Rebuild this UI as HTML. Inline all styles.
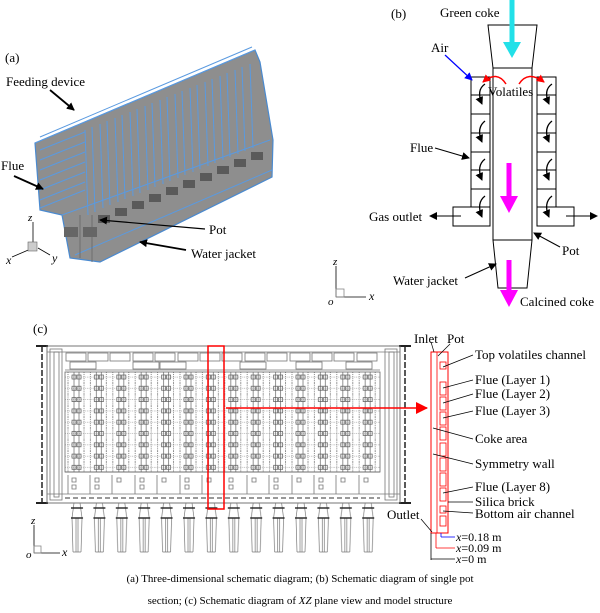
<!DOCTYPE html>
<html><head><meta charset="utf-8"><style>
html,body{margin:0;padding:0;background:#fff;}
svg{display:block;font-family:"Liberation Serif",serif;}
</style></head><body>
<svg width="600" height="613" viewBox="0 0 600 613" xmlns="http://www.w3.org/2000/svg">
<defs>
<marker id="ak" markerWidth="8" markerHeight="8" refX="7" refY="4" orient="auto" markerUnits="userSpaceOnUse"><path d="M0,0 L8,4 L0,8 z" fill="#000"/></marker>
<marker id="ab" markerWidth="8" markerHeight="8" refX="7" refY="4" orient="auto" markerUnits="userSpaceOnUse"><path d="M0,0 L8,4 L0,8 z" fill="#0000ff"/></marker>
<marker id="ar" markerWidth="8" markerHeight="8" refX="7" refY="4" orient="auto" markerUnits="userSpaceOnUse"><path d="M0,0 L8,4 L0,8 z" fill="#f00"/></marker>
<marker id="arb" markerWidth="12" markerHeight="12" refX="11" refY="6" orient="auto" markerUnits="userSpaceOnUse"><path d="M0,0 L12,6 L0,12 z" fill="#f00"/></marker>
<pattern id="grid" x="65" y="372" width="22.4" height="11.3" patternUnits="userSpaceOnUse">
<rect x="0" y="0" width="22.4" height="11.3" fill="#fff"/>
<line x1="3" y1="0" x2="3" y2="11.3" stroke="#555" stroke-width="0.7" stroke-dasharray="1,1"/>
<line x1="9" y1="0" x2="9" y2="11.3" stroke="#666" stroke-width="0.7"/>
<line x1="14" y1="0" x2="14" y2="11.3" stroke="#666" stroke-width="0.7"/>
<line x1="19" y1="0" x2="19" y2="11.3" stroke="#555" stroke-width="0.7" stroke-dasharray="1,1"/>
<rect x="7" y="3" width="4" height="4" fill="none" stroke="#555" stroke-width="0.7"/>
<rect x="12" y="3" width="4" height="4" fill="none" stroke="#555" stroke-width="0.7"/>
<line x1="0" y1="5" x2="22.4" y2="5" stroke="#888" stroke-width="0.5" stroke-dasharray="1,1"/>
</pattern>
<pattern id="legs" x="70" y="503" width="22.4" height="50" patternUnits="userSpaceOnUse">
<path d="M4,0 L2,15 L3,49 M10,0 L12,15 L11,49 M3,49 L11,49 M6,15 V49 M8,15 V49" fill="none" stroke="#777" stroke-width="0.7"/>
<line x1="1" y1="5" x2="13" y2="5" stroke="#222" stroke-width="1.4"/>
<line x1="1" y1="15" x2="13" y2="15" stroke="#222" stroke-width="1.4"/>
</pattern>
</defs>

<!-- Panel (a) -->
<text x="5" y="62" font-size="13">(a)</text>
<polygon points="35,143 80,124 255,50 260,62 273,140 272,177 100,262 70,258 62,215 40,210" fill="#8e8e8e" stroke="#4a8ad0" stroke-width="1.2"/>
<g stroke="#5a9ae0" stroke-width="1" fill="none">
<path d="M40,150 L85,132 M40,160 L85,142 M40,170 L85,152 M40,180 L85,162 M40,190 L85,172 M40,200 L85,182 M40,208 L85,190"/>
<path d="M85,130 L88,215 M100,124 L103,208 M115,118 L118,202 M130,112 L133,196 M145,106 L148,190 M160,100 L163,184 M175,94 L178,178 M190,88 L193,172 M205,82 L208,166 M220,76 L223,160 M235,70 L238,154 M250,64 L253,148"/>
<path d="M92,127 L95,212 M107,121 L110,205 M122,115 L125,199 M137,109 L140,193 M152,103 L155,187 M167,97 L170,181 M182,91 L185,175 M197,85 L200,169 M212,79 L215,163 M227,73 L230,157 M242,67 L245,151"/>
<path d="M35,143 L255,50 M40,137 L252,47"/>
<path d="M62,215 L270,140 M75,255 L272,170"/>
</g>
<g fill="#5a5a5a">
<rect x="98" y="215" width="12" height="8"/><rect x="115" y="208" width="12" height="8"/><rect x="132" y="201" width="12" height="8"/><rect x="149" y="194" width="12" height="8"/><rect x="166" y="187" width="12" height="8"/><rect x="183" y="180" width="12" height="8"/><rect x="200" y="173" width="12" height="8"/><rect x="217" y="166" width="12" height="8"/><rect x="234" y="159" width="12" height="8"/><rect x="251" y="152" width="12" height="8"/>
<rect x="64" y="227" width="14" height="10" fill="#666"/><rect x="83" y="227" width="14" height="10" fill="#666"/>
</g>
<g stroke="#666" stroke-width="0.8"><line x1="80" y1="215" x2="80" y2="258"/><line x1="92" y1="215" x2="92" y2="262"/></g>
<text x="6" y="86" font-size="13">Feeding device</text>
<line x1="50" y1="90" x2="74" y2="110" stroke="#000" stroke-width="1.8" marker-end="url(#ak)"/>
<text x="1" y="170" font-size="13">Flue</text>
<line x1="14" y1="176" x2="43" y2="189" stroke="#000" stroke-width="1.8" marker-end="url(#ak)"/>
<text x="209" y="234" font-size="13">Pot</text>
<line x1="205" y1="229" x2="100" y2="220" stroke="#000" stroke-width="1.2" marker-end="url(#ak)"/>
<text x="191" y="258" font-size="13">Water jacket</text>
<line x1="186" y1="250" x2="140" y2="242" stroke="#000" stroke-width="1.8" marker-end="url(#ak)"/>
<g stroke="#000" stroke-width="0.8"><line x1="33" y1="246" x2="33" y2="222"/><line x1="33" y1="248" x2="12" y2="257"/><line x1="38" y1="248" x2="50" y2="255"/></g>
<rect x="28" y="242" width="9" height="9" fill="#ccc" stroke="#666" stroke-width="0.6"/>
<text x="28" y="221" font-size="11" font-style="italic">z</text>
<text x="6" y="264" font-size="12" font-style="italic">x</text>
<text x="52" y="262" font-size="12" font-style="italic">y</text>

<!-- Panel (b) -->
<text x="391" y="18" font-size="13">(b)</text>
<text x="440" y="17" font-size="13">Green coke</text>
<g fill="none" stroke="#000" stroke-width="1">
<polygon points="488,25 537,25 532,68 493,68"/>
<rect x="493" y="68" width="39" height="172"/>
<polygon points="493,240 532,240 527,288 498,288"/>
<rect x="471" y="77" width="19" height="130"/>
<rect x="537" y="77" width="19" height="130"/>
<path d="M471,95 H490 M471,114 H490 M471,133 H490 M471,152 H490 M471,170 H490 M471,189 H490"/>
<path d="M537,95 H556 M537,114 H556 M537,133 H556 M537,152 H556 M537,170 H556 M537,189 H556"/>
<rect x="453" y="207" width="37" height="19"/>
<rect x="537" y="207" width="37" height="19"/>
</g>
<line x1="461" y1="216" x2="430" y2="216" stroke="#000" stroke-width="1" marker-end="url(#ak)"/>
<line x1="566" y1="216" x2="597" y2="216" stroke="#000" stroke-width="1" marker-end="url(#ak)"/>
<g fill="none" stroke="#000" stroke-width="1.3">
<path d="M485,84 Q476,90 482,104" marker-end="url(#ak)"/><path d="M485,121 Q476,128 482,142" marker-end="url(#ak)"/><path d="M485,159 Q476,166 482,180" marker-end="url(#ak)"/><path d="M485,196 Q476,203 482,217" marker-end="url(#ak)"/>
<path d="M552,84 Q543,90 549,104" marker-end="url(#ak)"/><path d="M552,121 Q543,128 549,142" marker-end="url(#ak)"/><path d="M552,159 Q543,166 549,180" marker-end="url(#ak)"/><path d="M552,196 Q543,203 549,217" marker-end="url(#ak)"/>
</g>
<g fill="none" stroke="#f00" stroke-width="1.5">
<path d="M506,84 Q497,70 483,82" marker-end="url(#ar)"/>
<path d="M519,84 Q528,70 544,82" marker-end="url(#ar)"/>
</g>
<line x1="512" y1="0" x2="512" y2="44" stroke="#22e0e8" stroke-width="5"/>
<polygon points="503,42 521,42 512,58" fill="#22e0e8"/>
<line x1="509" y1="163" x2="509" y2="198" stroke="#f0f" stroke-width="5"/>
<polygon points="500,196 518,196 509,213" fill="#f0f"/>
<line x1="509" y1="260" x2="509" y2="292" stroke="#f0f" stroke-width="5"/>
<polygon points="500,290 518,290 509,307" fill="#f0f"/>
<text x="431" y="52" font-size="13">Air</text>
<line x1="445" y1="55" x2="472" y2="80" stroke="#0000ff" stroke-width="1.2" marker-end="url(#ab)"/>
<text x="488" y="96" font-size="13">Volatiles</text>
<text x="410" y="152" font-size="13">Flue</text>
<line x1="435" y1="148" x2="469" y2="158" stroke="#000" stroke-width="1" marker-end="url(#ak)"/>
<text x="369" y="221" font-size="13">Gas outlet</text>
<text x="562" y="255" font-size="13">Pot</text>
<line x1="560" y1="247" x2="534" y2="233" stroke="#000" stroke-width="1" marker-end="url(#ak)"/>
<text x="393" y="285" font-size="13">Water jacket</text>
<line x1="465" y1="278" x2="496" y2="264" stroke="#000" stroke-width="1" marker-end="url(#ak)"/>
<text x="520" y="306" font-size="13">Calcined coke</text>
<g stroke="#000" stroke-width="0.8" fill="none"><line x1="336" y1="297" x2="336" y2="266"/><line x1="336" y1="297" x2="366" y2="297"/><rect x="336" y="289" width="8" height="8" stroke="#888"/></g>
<text x="333" y="265" font-size="11" font-style="italic">z</text>
<text x="328" y="305" font-size="11" font-style="italic">o</text>
<text x="369" y="300" font-size="12" font-style="italic">x</text>

<!-- Panel (c) -->
<text x="33" y="333" font-size="13">(c)</text>
<g stroke="#222" fill="none">
<line x1="42" y1="346" x2="42" y2="503" stroke-width="1.5" stroke-dasharray="6,2"/>
<line x1="405" y1="346" x2="405" y2="503" stroke-width="1.5" stroke-dasharray="6,2"/>
<path d="M36,346 H48 M36,503 H48 M399,346 H411 M399,503 H411" stroke-width="2"/>
</g>
<rect x="47" y="346" width="353" height="157" fill="none" stroke="#666" stroke-width="0.9"/>
<g stroke="#777" stroke-width="0.8" fill="none">
<rect x="50" y="349" width="12" height="151"/><rect x="54" y="352" width="5" height="145"/>
<rect x="385" y="349" width="12" height="151"/><rect x="389" y="352" width="5" height="145"/>
<line x1="47" y1="352" x2="400" y2="352"/>
<line x1="65" y1="370" x2="380" y2="370"/>
<line x1="47" y1="494" x2="400" y2="494"/>
</g>
<g stroke="#777" stroke-width="0.8" fill="#fff">
<rect x="66" y="353" width="20" height="8"/><rect x="88" y="353" width="20" height="8"/><rect x="110" y="353" width="20" height="8"/><rect x="133" y="353" width="20" height="8"/><rect x="155" y="353" width="20" height="8"/><rect x="178" y="353" width="20" height="8"/><rect x="200" y="353" width="20" height="8"/><rect x="222" y="353" width="20" height="8"/><rect x="245" y="353" width="20" height="8"/><rect x="267" y="353" width="20" height="8"/><rect x="290" y="353" width="20" height="8"/><rect x="312" y="353" width="20" height="8"/><rect x="334" y="353" width="20" height="8"/><rect x="357" y="353" width="20" height="8"/>
<rect x="70" y="362" width="26" height="7"/><rect x="133" y="362" width="26" height="7"/><rect x="160" y="362" width="26" height="7"/><rect x="240" y="362" width="26" height="7"/><rect x="296" y="362" width="26" height="7"/><rect x="346" y="362" width="26" height="7"/>
</g>
<rect x="65" y="372" width="315" height="100" fill="url(#grid)" stroke="#666" stroke-width="0.8"/>
<line x1="65" y1="472" x2="380" y2="472" stroke="#666" stroke-width="0.8"/>
<g stroke="#777" stroke-width="0.8" fill="none">
<path d="M68,475 V494 M90,475 V494 M112,475 V494 M135,475 V494 M157,475 V494 M180,475 V494 M202,475 V494 M224,475 V494 M247,475 V494 M269,475 V494 M292,475 V494 M314,475 V494 M336,475 V494 M359,475 V494"/>
<path d="M72,478 h4 v4 h-4z M72,485 h4 v4 h-4z M95,478 h4 v4 h-4z M95,485 h4 v4 h-4z M117,478 h4 v4 h-4z M140,478 h4 v4 h-4z M140,485 h4 v4 h-4z M162,478 h4 v4 h-4z M185,478 h4 v4 h-4z M185,485 h4 v4 h-4z M207,478 h4 v4 h-4z M229,478 h4 v4 h-4z M229,485 h4 v4 h-4z M252,478 h4 v4 h-4z M274,478 h4 v4 h-4z M274,485 h4 v4 h-4z M297,478 h4 v4 h-4z M319,478 h4 v4 h-4z M319,485 h4 v4 h-4z M341,478 h4 v4 h-4z M364,478 h4 v4 h-4z"/>
</g>
<line x1="65" y1="498" x2="380" y2="498" stroke="#333" stroke-width="1" stroke-dasharray="5,3"/>
<rect x="70" y="503" width="314" height="50" fill="url(#legs)"/>
<rect x="208" y="346" width="16" height="163" fill="none" stroke="#f00" stroke-width="1.5"/>
<line x1="226" y1="408" x2="427" y2="408" stroke="#f00" stroke-width="1.5" marker-end="url(#arb)"/>
<g stroke="#000" stroke-width="0.8" fill="none"><line x1="34" y1="553" x2="34" y2="525"/><line x1="34" y1="553" x2="60" y2="553"/><rect x="34" y="546" width="7" height="7" stroke="#888"/></g>
<text x="31" y="524" font-size="11" font-style="italic">z</text>
<text x="26" y="558" font-size="11" font-style="italic">o</text>
<text x="62" y="556" font-size="12" font-style="italic">x</text>

<!-- model detail -->
<rect x="431" y="352" width="17" height="181" fill="none" stroke="#f00" stroke-width="1"/>
<line x1="437" y1="352" x2="437" y2="533" stroke="#f00" stroke-width="0.8"/>
<g fill="none" stroke="#f00" stroke-width="0.8">
<rect x="440" y="362" width="6" height="7"/><rect x="440" y="382" width="6" height="13"/><rect x="440" y="397" width="6" height="13"/><rect x="440" y="412" width="6" height="13"/><rect x="440" y="427" width="6" height="13"/><rect x="440" y="443" width="6" height="13"/><rect x="440" y="458" width="6" height="13"/><rect x="440" y="473" width="6" height="13"/><rect x="440" y="488" width="6" height="13"/><rect x="440" y="506" width="6" height="7"/><rect x="440" y="516" width="6" height="10"/>
</g>
<g stroke="#000" stroke-width="0.7">
<line x1="443" y1="367" x2="473" y2="355"/><line x1="443" y1="388" x2="473" y2="380"/><line x1="443" y1="403" x2="473" y2="394"/><line x1="443" y1="418" x2="473" y2="411"/><line x1="433" y1="428" x2="473" y2="439"/><line x1="433" y1="454" x2="473" y2="464"/><line x1="443" y1="493" x2="473" y2="487"/><line x1="448" y1="502" x2="473" y2="502"/><line x1="443" y1="511" x2="473" y2="513"/>
<line x1="431" y1="342" x2="434" y2="352"/><line x1="450" y1="344" x2="438" y2="356"/>
<line x1="421" y1="519" x2="432" y2="532"/>
</g>
<g font-size="13">
<text x="414" y="343">Inlet</text><text x="447" y="343">Pot</text>
<text x="475" y="359">Top volatiles channel</text>
<text x="475" y="384">Flue (Layer 1)</text>
<text x="475" y="398">Flue (Layer 2)</text>
<text x="475" y="415">Flue (Layer 3)</text>
<text x="475" y="443">Coke area</text>
<text x="475" y="468">Symmetry wall</text>
<text x="475" y="491">Flue (Layer 8)</text>
<text x="475" y="506">Silica brick</text>
<text x="475" y="518">Bottom air channel</text>
<text x="387" y="519">Outlet</text>
</g>
<g stroke-width="0.8">
<line x1="441" y1="533" x2="441" y2="537" stroke="#00f"/><line x1="441" y1="537" x2="455" y2="537" stroke="#00f"/>
<line x1="436" y1="533" x2="436" y2="548" stroke="#f00"/><line x1="436" y1="548" x2="455" y2="548" stroke="#f00"/>
<line x1="431" y1="533" x2="431" y2="560" stroke="#000"/><line x1="431" y1="559" x2="455" y2="559" stroke="#000"/>
</g>
<g font-size="12"><text x="456" y="541"><tspan font-style="italic">x</tspan>=0.18 m</text><text x="456" y="552"><tspan font-style="italic">x</tspan>=0.09 m</text><text x="456" y="563"><tspan font-style="italic">x</tspan>=0 m</text></g>

<g font-size="11" text-anchor="middle">
<text x="300" y="582">(a) Three-dimensional schematic diagram; (b) Schematic diagram of single pot</text>
<text x="300" y="604">section; (c) Schematic diagram of <tspan font-style="italic">XZ</tspan> plane view and model structure</text>
</g>
</svg>
</body></html>
